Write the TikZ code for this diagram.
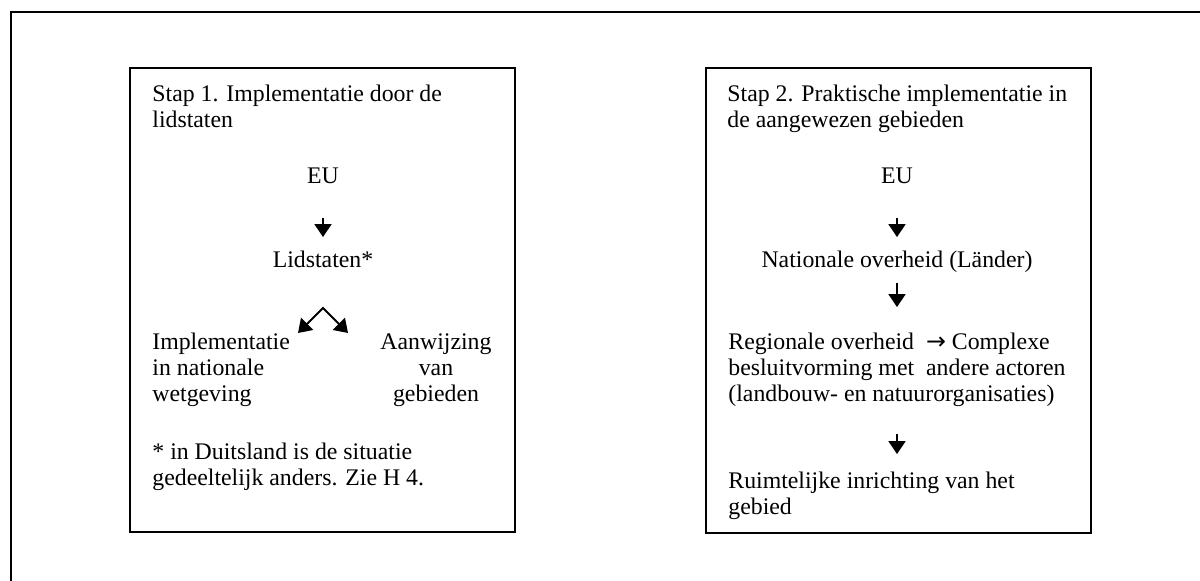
\documentclass[tikz,border=0pt]{standalone}
\usepackage{fontspec}
\setmainfont{Liberation Serif}
\newfontfamily\symfont{DejaVu Sans}
\usetikzlibrary{arrows.meta}

\tikzset{
  txt/.style={inner sep=0pt, font=\fontsize{11.9pt}{13pt}\selectfont},
  frame/.style={line width=1pt},
  arr/.style={line width=0.9pt, -{Triangle[length=6.5pt,width=8.5pt]}},
  arrboth/.style={line width=0.9pt, line join=miter,
    {Triangle[length=6.5pt,width=8.5pt]}-{Triangle[length=6.5pt,width=8.5pt]}}
}

\begin{document}
\begin{tikzpicture}[x=0.5pt,y=-0.5pt]
\useasboundingbox (0,0) rectangle (1200,581);

% Outer frame, cut off at right and bottom
\draw[line width=0.8pt] (1200,12) -- (11,12) -- (11,581);

% Draw boxes
\draw[frame] (130,68) rectangle (515,532);
\draw[frame] (706,68) rectangle (1091,533);

% Stap 1 (multi-line nodes sit on their last baseline)
\node[txt, anchor=base west, align=left] (titleA) at (152,128) {Stap 1. Implementatie door de\\lidstaten};
\node[txt, anchor=base] (euA) at (323,184) {EU};
\node[txt, anchor=base] (lid) at (323,268) {Lidstaten*};
\node[txt, anchor=base west, align=left] (impl) at (152,402) {Implementatie\\in nationale\\wetgeving};
\node[txt, anchor=base, align=center] (aanw) at (436,402) {Aanwijzing\\van\\gebieden};
\node[txt, anchor=base west, align=left] (note) at (152,486) {* in Duitsland is de situatie\\gedeeltelijk anders. Zie H 4.};

% Split point below Lidstaten
\coordinate (split) at (323,308);
\coordinate (tipL) at (298,333);
\coordinate (tipR) at (348,333);

\draw[arr, shorten <=16.5pt, shorten >=7pt] (euA) -- (lid);
\draw[arrboth] (tipL) -- (split) -- (tipR);

% Stap 2
\node[txt, anchor=base west, align=left] (titleB) at (727,128) {Stap 2. Praktische implementatie in\\de aangewezen gebieden};
\node[txt, anchor=base] (euB) at (897,184) {EU};
\node[txt, anchor=base] (nat) at (897,268) {Nationale overheid (Länder)};
\node[txt, anchor=base west, align=left] (reg) at (728,402) {Regionale overheid\ \ {\symfont →} Complexe\\besluitvorming met\ \ andere actoren\\(landbouw- en natuurorganisaties)};
\node[txt, anchor=base west, align=left] (ruimte) at (728,515) {Ruimtelijke inrichting van het\\gebied};

\draw[arr, shorten <=16.5pt, shorten >=7pt] (euB) -- (nat);
\draw[arr, shorten <=5pt, shorten >=13pt] (nat.south) -- (nat.south |- reg.north);
\draw[arr, shorten <=13pt, shorten >=9pt] (nat.south |- reg.south) -- (nat.south |- ruimte.north);

\end{tikzpicture}
\end{document}
